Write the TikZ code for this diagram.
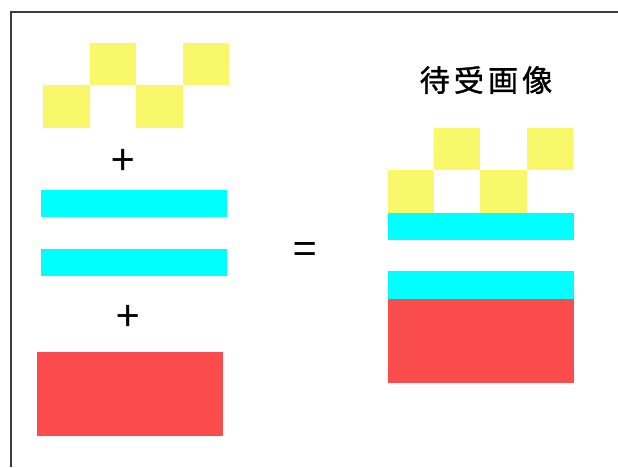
\documentclass[tikz,border=0pt]{standalone}
\usepackage{fontspec}
\newfontfamily\jp{Noto Sans CJK JP}
\newfontfamily\jpsp[LetterSpace=14,FakeBold=1.2]{Noto Sans CJK JP}
\definecolor{yel}{RGB}{248,248,106}
\definecolor{cy}{RGB}{0,255,255}
\definecolor{rd}{RGB}{250,76,76}
\definecolor{frame}{RGB}{60,60,60}
\tikzset{
  ysq/.style={fill=yel},
  cbar/.style={fill=cy},
  rbox/.style={fill=rd},
  sym/.style={inner sep=0pt, font=\jp\fontsize{42}{42}\selectfont, text=black},
}
\begin{document}
\begin{tikzpicture}[x=1pt,y=-1pt]
\useasboundingbox (0,0) rectangle (618,467);
\fill[white] (0,0) rectangle (618,467);
\draw[frame, line width=1.2pt] (11,467) -- (11,12) -- (618,12);
% left checker
\fill[ysq] (90,43) rectangle (136,85);
\fill[ysq] (183,43) rectangle (229,85);
\fill[ysq] (43,85) rectangle (90,128);
\fill[ysq] (136,85) rectangle (183,128);
\node[sym] (plus1) at (123,162) {+};
\fill[cbar] (41,190) rectangle (227,217);
\fill[cbar] (41,249) rectangle (227,276);
\node[sym] (plus2) at (128,318) {+};
\fill[rbox] (37,352) rectangle (223,436);
\node[sym] (eq) at (305,254) {=};
% right
\node[inner sep=0pt, font=\jpsp\fontsize{30}{30}\selectfont] (title) at (486,80) {待受画像};
\fill[ysq] (434,128) rectangle (480,170);
\fill[ysq] (527,128) rectangle (573,170);
\fill[ysq] (388,170) rectangle (434,213);
\fill[ysq] (480,170) rectangle (527,213);
\fill[cbar] (388,213) rectangle (574,240);
\fill[cbar] (388,271) rectangle (574,299);
\fill[rbox] (388,299) rectangle (574,383);
\end{tikzpicture}
\end{document}
